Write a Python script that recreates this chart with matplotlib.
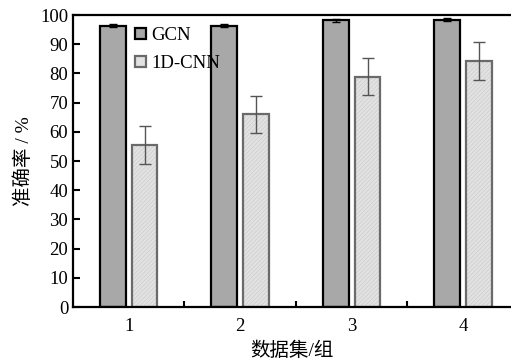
import matplotlib.pyplot as plt
import matplotlib.patches as mpatches
import numpy as np

# 数据集分组 / 两种模型的准确率(%)及误差
groups = ['1', '2', '3', '4']
gcn = [96.3, 96.3, 98.2, 98.4]
gcn_err = [0.5, 0.5, 0.5, 0.5]
cnn = [55.5, 66.0, 78.9, 84.2]
cnn_err = [6.4, 6.4, 6.3, 6.4]

plt.rcParams['font.family'] = ['Liberation Serif', 'Noto Sans CJK SC']
plt.rcParams['hatch.linewidth'] = 0.5

fig = plt.figure(figsize=(5.11, 3.63), dpi=100)
ax = fig.add_axes([73/511, 56/363, (511-73)/511, 292/363])

x = np.arange(1, len(groups) + 1)
w = 0.23
off = 0.143

ax.bar(x - off, gcn, w, color='#a8a8a8', edgecolor='black', linewidth=1.6, zorder=2)
ax.errorbar(x - off, gcn, yerr=gcn_err, fmt='none', ecolor='black', elinewidth=1, capsize=3, zorder=3)

# 1D-CNN: 细纹理填充 + 灰色边框
ax.bar(x + off, cnn, w, color='#e2e2e2', edgecolor='#cdcdcd', hatch='////////', linewidth=0, zorder=2)
ax.bar(x + off, cnn, w, fill=False, edgecolor='#6a6a6a', linewidth=1.6, zorder=2)
ax.errorbar(x + off, cnn, yerr=cnn_err, fmt='none', ecolor='#555555', elinewidth=1, capsize=4, zorder=3)

ax.set_xlim(0.5, 4.43)
ax.set_ylim(0, 100)
ax.set_yticks(range(0, 101, 10))
ax.set_xticks(x)
ax.set_xticklabels(groups)
ax.set_xticks([1.5, 2.5, 3.5], minor=True)
ax.tick_params(axis='x', which='major', length=0, labelsize=13.5, pad=8)
ax.tick_params(axis='x', which='minor', direction='in', length=4, width=1.5)
ax.tick_params(axis='y', direction='in', length=5, width=1.5, labelsize=13.5)

for s in ['left', 'bottom', 'top']:
    ax.spines[s].set_linewidth(1.6)
ax.spines['right'].set_visible(False)

ax.set_xlabel('数据集/组', fontsize=14, labelpad=5)
ax.set_ylabel('准确率 / %', fontsize=14, labelpad=5)

h1 = mpatches.Patch(facecolor='#a8a8a8', edgecolor='black', linewidth=1.6)
h2 = mpatches.Patch(facecolor='#e2e2e2', edgecolor='#6a6a6a', linewidth=1.6)
ax.legend([h1, h2], ['GCN', '1D-CNN'], loc='upper left', bbox_to_anchor=(0.125, 0.985),
          frameon=False, fontsize=13.5, handlelength=0.55, handleheight=0.55,
          handletextpad=0.3, labelspacing=0.6, borderaxespad=0)

fig.savefig('out.png', dpi=100)
